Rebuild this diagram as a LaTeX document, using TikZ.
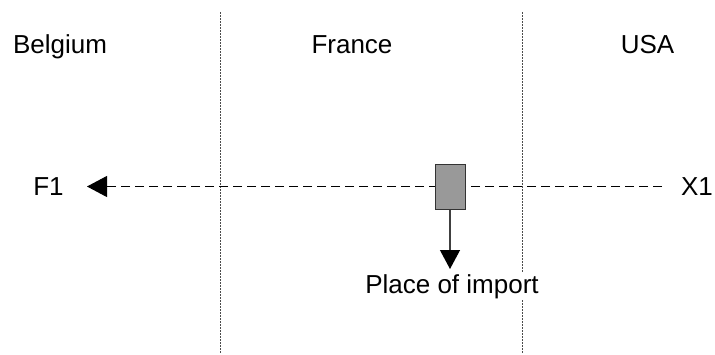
\documentclass[tikz,border=0pt]{standalone}
\usepackage{fontspec}
\setmainfont{Liberation Sans}
\usetikzlibrary{arrows.meta}
\begin{document}
\begin{tikzpicture}[x=1pt,y=-1pt,
  lbl/.style={anchor=base,inner sep=0pt,font=\fontsize{26}{31}\selectfont},
  border/.style={draw=black!70,line width=0.9pt,dash pattern=on 1.5pt off 1.5pt},
  flow/.style={draw=black,line width=0.9pt,dash pattern=on 9pt off 5pt,
    -{Triangle[length=20pt,width=21pt]}},
  down/.style={draw=black!75,line width=1.2pt,-{Triangle[length=19pt,width=20pt,color=black]}},
  place/.style={draw=black!80,line width=1pt,fill=black!40,minimum width=30pt,minimum height=45pt,inner sep=0pt}]
\useasboundingbox (0,0) rectangle (715,354);
% borders
\coordinate (b1t) at (220,12); \coordinate (b1b) at (220,354);
\coordinate (b2t) at (522,12); \coordinate (b2b) at (522,354);
\draw[border] (b1t) -- (b1b);
\draw[border] (b2t) -- (b2b);
% country labels
\node[lbl] (belgium) at (60,53) {Belgium};
\node[lbl] (france) at (352,53) {France};
\node[lbl] (usa) at (647.5,53) {USA};
% flow
\node[lbl] (f1) at (48.5,195) {F1};
\node[lbl] (x1) at (697,195) {X1};
\coordinate (start) at (662,186.5);
\coordinate (end) at (87,186.5);
\draw[flow] (start) -- (end);
\node[place] (box) at (450,186.5) {};
% place of import
\node[lbl,fill=white,inner sep=1pt] (poi) at (452,293) {Place of import};
\coordinate (tip) at (450,269);
\draw[down] (box.south) -- (tip);
\end{tikzpicture}
\end{document}
